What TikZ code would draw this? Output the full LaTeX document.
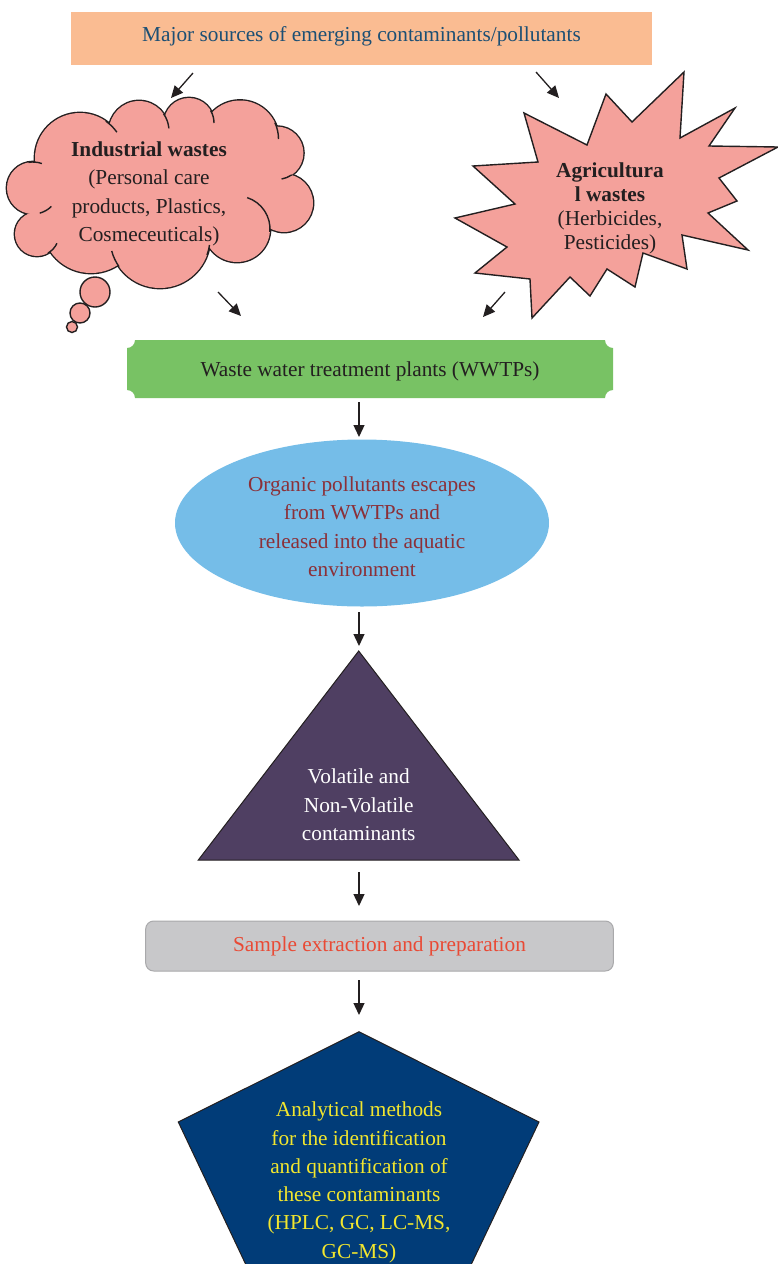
\documentclass[tikz,border=0pt]{standalone}
\usepackage{fontspec}
\setmainfont{Liberation Serif}
\usetikzlibrary{arrows.meta,shapes.geometric}

\definecolor{peach}{HTML}{FABC92}
\definecolor{titleblue}{HTML}{1C4F74}
\definecolor{salmon}{HTML}{F4A19B}
\definecolor{leaf}{HTML}{78C264}
\definecolor{sky}{HTML}{75BDE8}
\definecolor{wine}{HTML}{8B3038}
\definecolor{plum}{HTML}{4F3F62}
\definecolor{silver}{HTML}{C8C8CA}
\definecolor{silverline}{HTML}{A9A9AB}
\definecolor{vermilion}{HTML}{E94A35}
\definecolor{navy}{HTML}{013C78}
\definecolor{lemon}{HTML}{F2E62E}
\definecolor{ink}{HTML}{231F20}

\begin{document}
\begin{tikzpicture}[x=1pt,y=-1pt,
  every node/.style={inner sep=0pt, outer sep=0pt},
  bodytext/.style={font=\fontsize{21.3}{28.3}\selectfont},
  flow/.style={draw=ink, line width=1.3pt, -{Triangle[length=12pt,width=11pt]}},
  edgeline/.style={draw=ink, line width=1.4pt},
]
\useasboundingbox (0,0) rectangle (778,1264);
\clip (0,0) rectangle (778,1264);

% source banner
\node[bodytext, fill=peach, text=titleblue, minimum width=581pt, minimum height=53pt,
      text height=15pt, text depth=10pt] (src) at (361.5,38.5)
      {Major sources of emerging contaminants/pollutants};

% thought cloud built from overlapping puffs
\def\puffs{33/188/26, 80/158/45, 139/131/30, 189/123/25, 240/139/38.5,
           277/153/26.4, 284/203/29, 237/229/33, 160/238/50, 91/224/49, 37/234/22}
\foreach \cx/\cy/\r in \puffs
  \draw[ink, line width=2.8pt] (\cx,\cy) circle[radius=\r];
\foreach \cx/\cy/\r in \puffs
  \fill[salmon] (\cx,\cy) circle[radius=\r];
\fill[salmon] (33,188) -- (80,158) -- (139,131) -- (189,123) -- (240,139) -- (277,153)
  -- (284,203) -- (237,229) -- (160,238) -- (91,224) -- (37,234) -- cycle;
% short inner strokes where the puffs meet
\foreach \cx/\cy/\r/\a/\b in {33/188/26/-100/-70, 33/188/26/75/45, 37/234/22/60/25,
   160/238/50/165/145, 160/238/50/20/8, 237/229/33/5/-72, 277/153/26.4/56/80,
   240/139/38.5/-25/0, 189/123/25/-30/0, 139/131/30/-35/-5, 80/158/45/-55/-35}
  \draw[ink, line width=1.4pt] (\cx,\cy) ++(\a:\r) arc[start angle=\a, end angle=\b, radius=\r];
% thought bubbles
\draw[edgeline, fill=salmon] (95,292) circle[radius=15];
\draw[edgeline, fill=salmon] (80,313) circle[radius=10];
\draw[edgeline, fill=salmon] (72,327) circle[radius=5.5];
\node[bodytext, text=ink, align=center] (ind) at (149,194)
  {\textbf{Industrial wastes}\\(Personal care\\products, Plastics,\\Cosmeceuticals)};

% explosion burst
\draw[edgeline, fill=salmon, line join=miter]
  (524,113) -- (587,145) -- (606,94) -- (632,122) -- (684,72) -- (680,138)
  -- (735,108) -- (709,146) -- (778,147) -- (719,178) -- (737,201) -- (708,213)
  -- (748,250) -- (682,235) -- (687,269) -- (643,253) -- (635,287) -- (607,269)
  -- (590,296) -- (570,277) -- (532,318) -- (530,279) -- (475,273) -- (507,247)
  -- (455,218) -- (515,204) -- (473,166) -- (538,162) -- cycle;
\node[font=\fontsize{21.3}{24}\selectfont, text=ink, align=center] (agr) at (610,208)
  {\textbf{Agricultura}\\\textbf{l wastes}\\(Herbicides,\\Pesticides)};

% treatment plant plaque with notched corners
\fill[leaf] (135,340) -- (605,340) arc[start angle=180,end angle=90,radius=8]
  -- (613,390) arc[start angle=270,end angle=180,radius=8]
  -- (135,398) arc[start angle=0,end angle=-90,radius=8]
  -- (127,348) arc[start angle=90,end angle=0,radius=8] -- cycle;
\node[bodytext, text=ink, text height=15.4pt, text depth=0pt] (wwtp) at (370,369)
  {Waste water treatment plants (WWTPs)};

% release into water
\node[ellipse, fill=sky, minimum width=374pt, minimum height=167pt] (eco) at (362,523) {};
\node[bodytext, text=wine, align=center] (ecotext) at (362,526.7)
  {Organic pollutants escapes\\from WWTPs and\\released into the aquatic\\environment};

% contaminant classes
\coordinate (tA) at (358.7,651);
\coordinate (tL) at (198.3,860);
\coordinate (tR) at (519,860);
\draw[ink, line width=1pt, fill=plum, line join=miter] (tA) -- (tL) -- (tR) -- cycle;
\node[bodytext, text=white, align=center] (vol) at (358.7,805)
  {Volatile and\\Non-Volatile\\contaminants};

% sample preparation
\node[bodytext, draw=silverline, line width=1pt, fill=silver, rounded corners=8pt,
      minimum width=467.6pt, minimum height=50pt, text=vermilion,
      text height=15pt, text depth=3.6pt] (prep) at (379.5,946)
      {Sample extraction and preparation};

% analytical methods
\coordinate (pT) at (359,1031.7);
\coordinate (pR) at (539,1122);
\coordinate (pBR) at (470,1267);
\coordinate (pBL) at (247,1267);
\coordinate (pL) at (178.3,1122);
\draw[ink, line width=1pt, fill=navy, line join=miter] (pT) -- (pR) -- (pBR) -- (pBL) -- (pL) -- cycle;
\node[bodytext, text=lemon, align=center] (ana) at (359,1182.4)
  {Analytical methods\\for the identification\\and quantification of\\these contaminants\\(HPLC, GC, LC-MS,\\GC-MS)};

% arrows
\coordinate (a1s) at (193,73);   \coordinate (a1e) at (171,98);
\coordinate (a2s) at (536,72);   \coordinate (a2e) at (559,98);
\coordinate (a3s) at (218,292);  \coordinate (a3e) at (241,316);
\coordinate (a4s) at (505,292);  \coordinate (a4e) at (483,317);
\coordinate (a5s) at (359,402);  \coordinate (a5e) at (359,437);
\coordinate (a6s) at (359,612);  \coordinate (a6e) at (359,646);
\coordinate (a7s) at (359,872);  \coordinate (a7e) at (359,906);
\coordinate (a8s) at (359,980);  \coordinate (a8e) at (359,1015);
\foreach \k in {1,...,8}
  \draw[flow] (a\k s) -- (a\k e);
\end{tikzpicture}
\end{document}
